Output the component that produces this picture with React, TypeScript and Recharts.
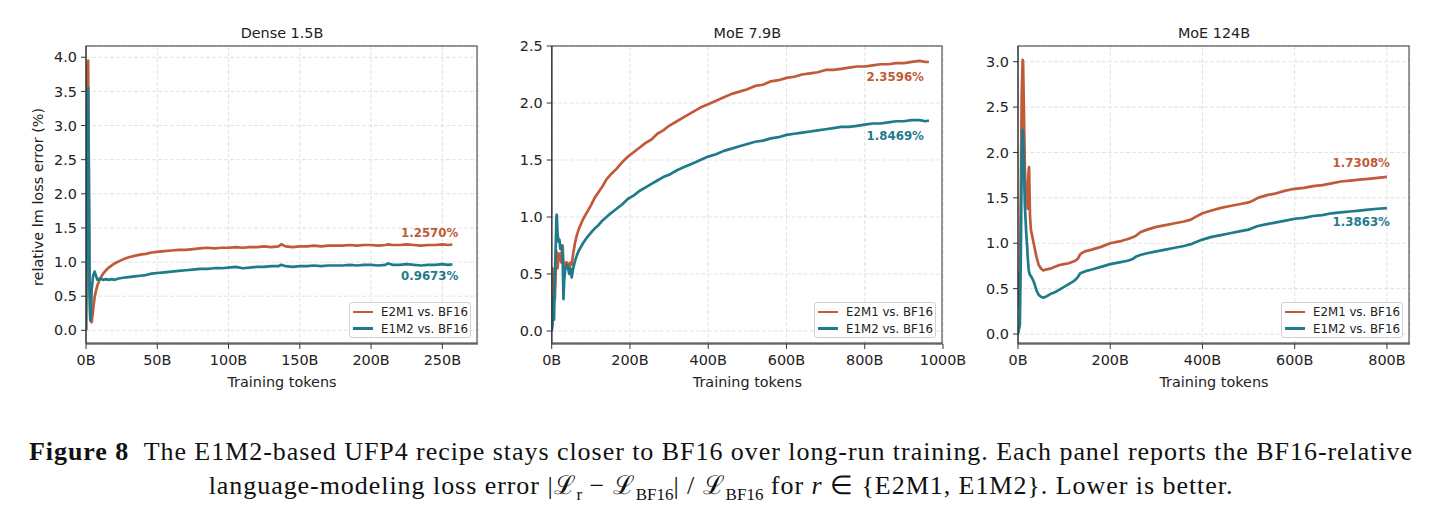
import React from "react";
import { LineChart, Line, XAxis, YAxis, CartesianGrid, ReferenceDot } from "recharts";

const ORANGE = "#C05A38";
const TEAL = "#1F7B8B";
const FONT = "'DejaVu Sans', sans-serif";

// Dense 1.5B run (tokens in billions, error in %)
const denseTokens = [
    0, 0.5, 1, 1.5, 2, 2.5, 3, 3.5, 4, 5, 6, 7, 8, 10, 12, 14, 16, 18, 20, 23, 26, 30, 34, 38, 42, 46,
    50, 55, 60, 65, 70, 75, 80, 85, 90, 95, 100, 105, 110, 115, 120, 125, 130, 135, 137, 140, 145, 150,
    155, 160, 165, 170, 175, 180, 185, 190, 195, 200, 205, 210, 212, 215, 220, 225, 230, 235, 240, 245,
    250, 254, 257,
];
const denseE2M1 = [
    0.0, 1.5, 3.9, 3.95, 2.0, 0.6, 0.2, 0.13, 0.12, 0.3, 0.48, 0.58, 0.66, 0.76, 0.83, 0.88, 0.92, 0.95,
    0.98, 1.01, 1.04, 1.07, 1.09, 1.11, 1.12, 1.14, 1.15, 1.16, 1.17, 1.18, 1.18, 1.19, 1.2, 1.21, 1.2,
    1.21, 1.21, 1.22, 1.21, 1.22, 1.22, 1.23, 1.22, 1.23, 1.26, 1.23, 1.22, 1.23, 1.23, 1.24, 1.23, 1.24,
    1.24, 1.24, 1.25, 1.24, 1.25, 1.25, 1.24, 1.25, 1.26, 1.25, 1.25, 1.26, 1.25, 1.24, 1.25, 1.25, 1.26,
    1.25, 1.257,
];
const denseE1M2 = [
    0.0, 1.2, 3.0, 3.55, 2.4, 0.6, 0.15, 0.3, 0.6, 0.8, 0.86, 0.8, 0.74, 0.76, 0.74, 0.75, 0.74, 0.75,
    0.74, 0.76, 0.77, 0.78, 0.79, 0.8, 0.81, 0.83, 0.84, 0.85, 0.86, 0.87, 0.88, 0.89, 0.9, 0.9, 0.91,
    0.91, 0.92, 0.93, 0.91, 0.92, 0.93, 0.93, 0.94, 0.94, 0.96, 0.94, 0.93, 0.94, 0.94, 0.95, 0.94, 0.95,
    0.95, 0.95, 0.96, 0.95, 0.96, 0.96, 0.95, 0.96, 0.98, 0.96, 0.96, 0.97, 0.96, 0.95, 0.96, 0.96, 0.97,
    0.96, 0.9673,
];

// MoE 7.9B run
const moeSmallTokens = [
    0, 2, 4, 6, 8, 10, 12, 13, 15, 18, 20, 22, 25, 28, 30, 32, 35, 40, 45, 48, 51, 55, 60, 65, 70, 80,
    90, 100, 110, 120, 130, 140, 150, 165, 180, 195, 210, 225, 240, 255, 270, 285, 300, 320, 340, 360,
    380, 400, 420, 440, 460, 480, 500, 520, 540, 560, 580, 600, 620, 640, 660, 680, 700, 720, 740, 760,
    780, 800, 820, 840, 860, 880, 900, 920, 940, 955, 964,
];
const moeSmallE2M1 = [
    0.3, 0.55, 0.3, 0.45, 0.28, 0.5, 0.7, 0.58, 0.55, 0.68, 0.62, 0.68, 0.6, 0.75, 0.58, 0.52, 0.6, 0.6,
    0.55, 0.6, 0.58, 0.68, 0.78, 0.85, 0.9, 0.98, 1.04, 1.1, 1.17, 1.22, 1.27, 1.33, 1.37, 1.42, 1.48,
    1.53, 1.57, 1.61, 1.65, 1.68, 1.73, 1.76, 1.8, 1.84, 1.88, 1.92, 1.96, 1.99, 2.02, 2.05, 2.08, 2.1,
    2.12, 2.15, 2.16, 2.19, 2.2, 2.22, 2.23, 2.25, 2.26, 2.27, 2.29, 2.29, 2.3, 2.31, 2.32, 2.32, 2.33,
    2.34, 2.34, 2.35, 2.35, 2.36, 2.37, 2.36, 2.3596,
];
const moeSmallE1M2 = [
    0.0, 0.05, 0.3, 0.1, 0.45, 0.7, 1.0, 1.02, 0.85, 0.78, 0.8, 0.72, 0.75, 0.65, 0.28, 0.45, 0.55, 0.58,
    0.5, 0.55, 0.47, 0.55, 0.62, 0.67, 0.71, 0.77, 0.82, 0.86, 0.9, 0.93, 0.97, 1.0, 1.03, 1.07, 1.11,
    1.16, 1.19, 1.23, 1.26, 1.29, 1.32, 1.35, 1.37, 1.41, 1.44, 1.47, 1.5, 1.53, 1.55, 1.58, 1.6, 1.62,
    1.64, 1.66, 1.67, 1.69, 1.7, 1.72, 1.73, 1.74, 1.75, 1.76, 1.77, 1.78, 1.79, 1.79, 1.8, 1.81, 1.82,
    1.82, 1.83, 1.84, 1.84, 1.85, 1.85, 1.84, 1.8469,
];

// MoE 124B run
const moeLargeTokens = [
    0, 2, 4, 6, 8, 10, 11, 13, 15, 18, 20, 21, 23, 24, 26, 28, 32, 36, 40, 45, 50, 55, 60, 70, 80, 90,
    100, 110, 120, 125, 130, 135, 145, 160, 180, 200, 220, 240, 250, 255, 265, 280, 300, 320, 340, 360,
    375, 385, 400, 420, 440, 460, 480, 500, 510, 520, 540, 560, 580, 600, 620, 640, 660, 680, 700, 720,
    740, 760, 780, 800,
];
const moeLargeE2M1 = [
    0.3, 0.67, 0.5, 1.5, 2.6, 3.02, 3.0, 2.4, 1.8, 1.5, 1.42, 1.38, 1.8, 1.84, 1.3, 1.15, 1.05, 0.95,
    0.85, 0.76, 0.72, 0.7, 0.71, 0.72, 0.74, 0.76, 0.77, 0.78, 0.8, 0.81, 0.83, 0.88, 0.91, 0.93, 0.96,
    1.0, 1.02, 1.05, 1.07, 1.08, 1.12, 1.15, 1.18, 1.2, 1.22, 1.24, 1.26, 1.29, 1.33, 1.36, 1.39, 1.41,
    1.43, 1.45, 1.47, 1.5, 1.53, 1.55, 1.58, 1.6, 1.61, 1.63, 1.64, 1.66, 1.68, 1.69, 1.7, 1.71, 1.72,
    1.7308,
];
const moeLargeE1M2 = [
    0.0, 0.05, 0.1, 0.8, 1.9, 2.25, 2.2, 1.8, 1.4, 1.1, 0.95, 0.85, 0.72, 0.68, 0.65, 0.64, 0.6, 0.55,
    0.48, 0.43, 0.41, 0.4, 0.41, 0.44, 0.46, 0.49, 0.52, 0.55, 0.58, 0.6, 0.63, 0.67, 0.69, 0.71, 0.74,
    0.77, 0.79, 0.81, 0.83, 0.85, 0.87, 0.89, 0.91, 0.93, 0.95, 0.97, 0.99, 1.01, 1.04, 1.07, 1.09, 1.11,
    1.13, 1.15, 1.17, 1.19, 1.21, 1.23, 1.25, 1.27, 1.28, 1.3, 1.31, 1.33, 1.34, 1.35, 1.36, 1.37, 1.38,
    1.3863,
];

const seriesNames = ["E2M1 vs. BF16", "E1M2 vs. BF16"];

type Panel = {
    title: string;
    tokens: number[];
    e2m1: number[];
    e1m2: number[];
    xTicks: number[];
    xMax: number;
    yTicks: number[];
    yDomain: [number, number];
    // chart box and plot-area placement
    left: number;
    width: number;
    plotLeft: number;
    plotRight: number;
    labelDx: number;
    e2m1Dy: number;
    e1m2Dy: number;
    showYLabel?: boolean;
};

const PLOT_TOP = 46;
const PLOT_BOTTOM = 344;
const CHART_H = 400;
const Y_AXIS_W = 50;
const X_AXIS_H = 30;

const panels: Panel[] = [
    {
        title: "Dense 1.5B",
        tokens: denseTokens,
        e2m1: denseE2M1,
        e1m2: denseE1M2,
        xTicks: [0, 50, 100, 150, 200, 250],
        xMax: 275,
        yTicks: [0, 0.5, 1, 1.5, 2, 2.5, 3, 3.5, 4],
        yDomain: [-0.2, 4.165],
        left: 0,
        width: 500,
        plotLeft: 86,
        plotRight: 478,
        labelDx: 6,
        e2m1Dy: -12,
        e1m2Dy: 12,
        showYLabel: true,
    },
    {
        title: "MoE 7.9B",
        tokens: moeSmallTokens,
        e2m1: moeSmallE2M1,
        e1m2: moeSmallE1M2,
        xTicks: [0, 200, 400, 600, 800, 1000],
        xMax: 1000,
        yTicks: [0, 0.5, 1, 1.5, 2, 2.5],
        yDomain: [-0.114, 2.5],
        left: 480,
        width: 490,
        plotLeft: 551.7,
        plotRight: 943,
        labelDx: -5,
        e2m1Dy: 15,
        e1m2Dy: 16,
    },
    {
        title: "MoE 124B",
        tokens: moeLargeTokens,
        e2m1: moeLargeE2M1,
        e1m2: moeLargeE1M2,
        xTicks: [0, 200, 400, 600, 800],
        xMax: 850,
        yTicks: [0, 0.5, 1, 1.5, 2, 2.5, 3],
        yDomain: [-0.11, 3.173],
        left: 960,
        width: 482,
        plotLeft: 1018,
        plotRight: 1410,
        labelDx: 3,
        e2m1Dy: -14,
        e1m2Dy: 14,
    },
];

function EndLabel(props: any) {
    const { viewBox, text, color, dx, dy } = props;
    if (!viewBox) return null;
    const cx = viewBox.x + (viewBox.width || 0) / 2;
    const cy = viewBox.y + (viewBox.height || 0) / 2;
    return (
        <text
            x={cx + dx}
            y={cy + dy}
            textAnchor="end"
            dominantBaseline="central"
            fill={color}
            fontFamily={FONT}
            fontWeight="bold"
            fontSize={11.8}
        >
            {text}
        </text>
    );
}

function LegendBox({ left }: { left: number }) {
    const colors = [ORANGE, TEAL];
    return (
        <div
            style={{
                position: "absolute",
                left,
                top: 302,
                width: 122,
                height: 36,
                boxSizing: "border-box",
                border: "1px solid #d0d0d0",
                borderRadius: 3,
                background: "rgba(255,255,255,0.85)",
                fontFamily: FONT,
                fontSize: 11.8,
                color: "#222",
            }}
        >
            {seriesNames.map((name, i) => (
                <div
                    key={name}
                    style={{
                        position: "absolute",
                        left: 3,
                        top: i === 0 ? 1 : 17.5,
                        height: 16,
                        display: "flex",
                        alignItems: "center",
                        whiteSpace: "nowrap",
                    }}
                >
                    <div style={{ width: 20, height: 2.4, background: colors[i], marginRight: 8 }} />
                    <span>{name}</span>
                </div>
            ))}
        </div>
    );
}

function PanelChart({ p }: { p: Panel }) {
    const data = p.tokens.map((t, i) => ({ t, e2m1: p.e2m1[i], e1m2: p.e1m2[i] }));
    const last = data[data.length - 1];
    const margin = {
        top: PLOT_TOP,
        right: p.left + p.width - p.plotRight,
        bottom: CHART_H - PLOT_BOTTOM - X_AXIS_H,
        left: p.plotLeft - p.left - Y_AXIS_W,
    };
    const tickStyle = { fill: "#222", fontSize: 14.4, fontFamily: FONT };
    return (
        <>
            <div style={{ position: "absolute", left: p.left, top: 0 }}>
                <LineChart width={p.width} height={CHART_H} data={data} margin={margin}>
                    <CartesianGrid stroke="#dcdcdc" strokeDasharray="4 2" strokeWidth={0.8} />
                    <XAxis
                        dataKey="t"
                        type="number"
                        domain={[0, p.xMax]}
                        ticks={p.xTicks}
                        tickFormatter={(v: number) => `${v}B`}
                        height={X_AXIS_H}
                        tick={tickStyle}
                        tickSize={5}
                        tickMargin={6}
                        stroke="#333"
                        allowDataOverflow
                        interval={0}
                    />
                    <YAxis
                        type="number"
                        domain={p.yDomain}
                        ticks={p.yTicks}
                        tickFormatter={(v: number) => v.toFixed(1)}
                        width={Y_AXIS_W}
                        tick={tickStyle}
                        tickSize={5}
                        tickMargin={4}
                        stroke="#333"
                        allowDataOverflow
                        interval={0}
                    />
                    <Line
                        type="linear"
                        dataKey="e2m1"
                        stroke={ORANGE}
                        strokeWidth={2.7}
                        strokeLinejoin="round"
                        dot={false}
                        isAnimationActive={false}
                    />
                    <Line
                        type="linear"
                        dataKey="e1m2"
                        stroke={TEAL}
                        strokeWidth={2.7}
                        strokeLinejoin="round"
                        dot={false}
                        isAnimationActive={false}
                    />
                    <ReferenceDot
                        x={last.t}
                        y={last.e2m1}
                        r={0}
                        fill="none"
                        stroke="none"
                        label={<EndLabel text={`${last.e2m1.toFixed(4)}%`} color={ORANGE} dx={p.labelDx} dy={p.e2m1Dy} />}
                    />
                    <ReferenceDot
                        x={last.t}
                        y={last.e1m2}
                        r={0}
                        fill="none"
                        stroke="none"
                        label={<EndLabel text={`${last.e1m2.toFixed(4)}%`} color={TEAL} dx={p.labelDx} dy={p.e1m2Dy} />}
                    />
                </LineChart>
            </div>
            {/* frame around the plot area */}
            <div
                style={{
                    position: "absolute",
                    left: p.plotLeft,
                    top: PLOT_TOP,
                    width: p.plotRight - p.plotLeft,
                    height: PLOT_BOTTOM - PLOT_TOP,
                    border: "1px solid #333",
                    boxSizing: "border-box",
                    pointerEvents: "none",
                    transform: "translate(-0.5px, -0.5px)",
                }}
            />
            <div
                style={{
                    position: "absolute",
                    left: p.plotLeft,
                    width: p.plotRight - p.plotLeft,
                    top: 24,
                    textAlign: "center",
                    fontFamily: FONT,
                    fontSize: 14.4,
                    lineHeight: "18px",
                    color: "#222",
                }}
            >
                {p.title}
            </div>
            <div
                style={{
                    position: "absolute",
                    left: p.plotLeft,
                    width: p.plotRight - p.plotLeft,
                    top: 373,
                    textAlign: "center",
                    fontFamily: FONT,
                    fontSize: 14.4,
                    lineHeight: "18px",
                    color: "#222",
                }}
            >
                Training tokens
            </div>
            {p.showYLabel && (
                <div
                    style={{
                        position: "absolute",
                        left: 38.3,
                        top: 196.7,
                        transform: "translate(-50%, -50%) rotate(-90deg)",
                        whiteSpace: "nowrap",
                        fontFamily: FONT,
                        fontSize: 14.4,
                        color: "#222",
                    }}
                >
                    relative lm loss error (%)
                </div>
            )}
            <LegendBox left={p.plotRight - 129} />
        </>
    );
}

export default function App() {
    const captionStyle: React.CSSProperties = {
        position: "absolute",
        left: 0,
        width: 1442,
        textAlign: "center",
        fontFamily: "'Liberation Serif', serif",
        fontSize: 26,
        letterSpacing: "0.95px",
        lineHeight: "30px",
        color: "#111",
        whiteSpace: "nowrap",
    };
    const subStyle: React.CSSProperties = { fontSize: 17, letterSpacing: 0 };
    return (
        <div style={{ position: "absolute", left: 0, top: 0, width: 1442, height: 520, background: "#fff", overflow: "hidden" }}>
            {panels.map((p) => (
                <PanelChart key={p.title} p={p} />
            ))}
            <div style={{ ...captionStyle, top: 437 }}>
                <b>Figure 8</b>&nbsp; The E1M2-based UFP4 recipe stays closer to BF16 over long-run training. Each panel reports the BF16-relative
            </div>
            <div style={{ ...captionStyle, top: 471 }}>
                language-modeling loss error |ℒ<sub style={subStyle}>r</sub> − ℒ<sub style={subStyle}>BF16</sub>| / ℒ<sub style={subStyle}>BF16</sub> for <i>r</i> ∈ {"{"}E2M1, E1M2{"}"}. Lower is better.
            </div>
        </div>
    );
}
